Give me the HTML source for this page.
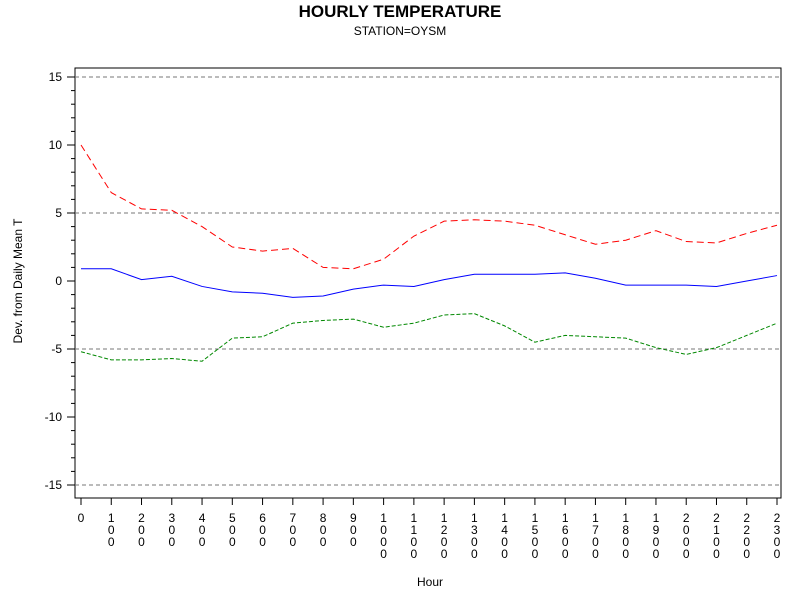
<!DOCTYPE html>
<html><head><meta charset="utf-8"><style>
body{margin:0;background:#fff;}
svg{display:block;font-family:"Liberation Sans",Arial,sans-serif;}
</style></head><body>
<svg id="chart" width="800" height="600">
<text x="400" y="17" text-anchor="middle" font-size="17" font-weight="bold">HOURLY TEMPERATURE</text>
<text x="400" y="35" text-anchor="middle" font-size="12">STATION=OYSM</text>
<rect x="75" y="68" width="706" height="430" fill="none" stroke="#000"/>
<text transform="translate(22,281) rotate(-90)" text-anchor="middle" font-size="12">Dev. from Daily Mean T</text>
<text x="430" y="586" text-anchor="middle" font-size="12">Hour</text>
<g id="grid"></g><g id="yaxis"></g><g id="xaxis"></g><g id="series"></g>
</svg>
<script>
const hours=[0,100,200,300,400,500,600,700,800,900,1000,1100,1200,1300,1400,1500,1600,1700,1800,1900,2000,2100,2200,2300];
const meanDev=[0.9,0.9,0.1,0.35,-0.4,-0.8,-0.9,-1.2,-1.1,-0.6,-0.3,-0.4,0.1,0.5,0.5,0.5,0.6,0.2,-0.3,-0.3,-0.3,-0.4,0,0.4];
const upperDev=[10.0,6.5,5.3,5.2,4.0,2.5,2.2,2.4,1.0,0.9,1.6,3.3,4.4,4.5,4.4,4.1,3.4,2.7,3.0,3.7,2.9,2.8,3.5,4.1];
const lowerDev=[-5.2,-5.8,-5.8,-5.7,-5.9,-4.2,-4.1,-3.1,-2.9,-2.8,-3.4,-3.1,-2.5,-2.4,-3.3,-4.5,-4.0,-4.1,-4.2,-4.9,-5.4,-4.9,-4.0,-3.1];
const yTicks=[-15,-10,-5,0,5,10,15];
const refLines=[-15,-5,5,15];
const NS="http://www.w3.org/2000/svg";
const X=h=>81+(h/100)*(777-81)/23;
const Y=v=>281-v*13.6;
function mk(tag,attrs,parent){const e=document.createElementNS(NS,tag);for(const k in attrs)e.setAttribute(k,attrs[k]);document.getElementById(parent).appendChild(e);return e;}
refLines.forEach(v=>{const l=mk('line',{x1:75,x2:781,y1:Y(v),y2:Y(v),stroke:'#777','stroke-dasharray':'4,3'},'grid');

});
for(let v=-15;v<=15;v++){const major=yTicks.includes(v);const t=mk('line',{x1:major?67:71,x2:75,y1:Y(v),y2:Y(v),stroke:'#000'},'yaxis');

}
yTicks.forEach(v=>{const t=mk('text',{x:62,y:Y(v)+4,'text-anchor':'end','font-size':12},'yaxis');t.textContent=v;

});
hours.forEach(h=>{const x=X(h);const t=mk('line',{x1:x,x2:x,y1:498,y2:505,stroke:'#000'},'xaxis');


const s=String(h);const tx=mk('text',{'text-anchor':'middle','font-size':12},'xaxis');


[...s].forEach((c,i)=>{const ts=document.createElementNS(NS,'tspan');ts.setAttribute('x',x);ts.setAttribute('y',522+i*12);ts.textContent=c;tx.appendChild(ts);});});
function line(vals,color,dash,name){const p=mk('polyline',{points:vals.map((v,i)=>X(hours[i])+','+Y(v)).join(' '),fill:'none',stroke:color,'stroke-width':1,'stroke-dasharray':dash},'series');

}
line(upperDev,'#f00','7,4','upper-deviation-line');
line(meanDev,'#00f','none','mean-deviation-line');
line(lowerDev,'#080','4,2','lower-deviation-line');
</script>
</body></html>
